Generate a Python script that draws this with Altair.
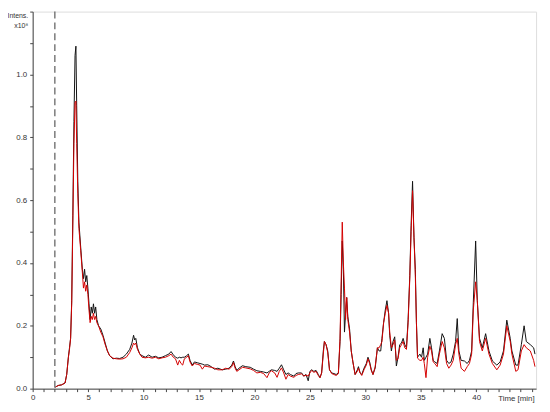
import altair as alt
import pandas as pd

# retention time (min)
time_min = [2.05, 2.3, 2.6, 2.92, 3.07, 3.22, 3.32, 3.42, 3.52, 3.62, 3.72, 3.82, 3.9, 3.97, 4.07, 4.17,
            4.33, 4.48, 4.58, 4.68, 4.78, 4.88, 4.98, 5.08, 5.18, 5.28, 5.38, 5.48, 5.58, 5.68, 5.79, 5.94,
            6.14, 6.34, 6.54, 6.74, 6.94, 7.24, 7.55, 7.85, 8.15, 8.45, 8.75, 8.95, 9.1, 9.2, 9.3, 9.45,
            9.66, 9.86, 10.16, 10.46, 10.77, 11.07, 11.37, 11.67, 11.97, 12.28, 12.48, 12.68, 12.88, 13.08,
            13.23, 13.38, 13.53, 13.68, 13.89, 14.04, 14.19, 14.39, 14.59, 14.89, 15.09, 15.3, 15.5, 15.8,
            16.1, 16.4, 16.7, 17.1, 17.41, 17.71, 17.96, 18.11, 18.26, 18.41, 18.61, 18.92, 19.22, 19.62,
            19.92, 20.22, 20.53, 20.83, 21.13, 21.33, 21.53, 21.83, 22.04, 22.24, 22.44, 22.64, 22.84, 23.04,
            23.24, 23.55, 23.75, 23.95, 24.25, 24.45, 24.65, 24.85, 25.0, 25.16, 25.36, 25.56, 25.76, 25.91,
            26.06, 26.21, 26.31, 26.46, 26.61, 26.77, 26.97, 27.17, 27.37, 27.57, 27.72, 27.82, 27.92, 28.02,
            28.12, 28.22, 28.32, 28.42, 28.58, 28.73, 28.88, 29.08, 29.28, 29.38, 29.53, 29.68, 29.88, 30.09,
            30.24, 30.39, 30.54, 30.69, 30.89, 31.09, 31.24, 31.39, 31.5, 31.65, 31.8, 31.95, 32.1, 32.2,
            32.35, 32.5, 32.65, 32.8, 32.95, 33.1, 33.26, 33.41, 33.56, 33.71, 33.86, 34.01, 34.13, 34.26,
            34.39, 34.51, 34.61, 34.71, 34.92, 35.07, 35.22, 35.32, 35.47, 35.62, 35.82, 35.97, 36.12, 36.27,
            36.48, 36.68, 36.93, 37.13, 37.33, 37.53, 37.73, 37.93, 38.14, 38.29, 38.44, 38.64, 38.94, 39.19,
            39.39, 39.59, 39.74, 39.95, 40.1, 40.3, 40.55, 40.85, 41.15, 41.46, 41.86, 42.16, 42.46, 42.76,
            43.07, 43.22, 43.57, 43.77, 44.07, 44.32, 44.52, 44.88, 45.18, 45.3]

# black trace (x10^8)
intens_black = [0.005, 0.010, 0.012, 0.018, 0.045, 0.10, 0.13, 0.16, 0.28, 0.55, 0.85, 1.06, 1.09, 0.90, 0.66, 0.53,
                0.45, 0.38, 0.35, 0.38, 0.34, 0.36, 0.32, 0.27, 0.22, 0.26, 0.24, 0.27, 0.24, 0.26, 0.22, 0.20,
                0.19, 0.17, 0.145, 0.12, 0.105, 0.095, 0.097, 0.096, 0.10, 0.11, 0.125, 0.145, 0.17, 0.155, 0.16, 0.13,
                0.11, 0.105, 0.10, 0.107, 0.10, 0.103, 0.098, 0.10, 0.105, 0.11, 0.118, 0.108, 0.10, 0.097,
                0.10, 0.098, 0.10, 0.10, 0.105, 0.11, 0.09, 0.075, 0.085, 0.082, 0.08, 0.078, 0.075, 0.076,
                0.07, 0.062, 0.065, 0.06, 0.062, 0.065, 0.075, 0.088, 0.07, 0.058, 0.065, 0.073, 0.07, 0.068,
                0.062, 0.057, 0.055, 0.053, 0.05, 0.055, 0.06, 0.058, 0.055, 0.065, 0.076, 0.06, 0.045, 0.05,
                0.045, 0.04, 0.048, 0.05, 0.05, 0.04, 0.045, 0.025, 0.055, 0.06, 0.055, 0.058, 0.045, 0.035,
                0.05, 0.12, 0.15, 0.14, 0.12, 0.06, 0.05, 0.048, 0.045, 0.05, 0.15, 0.30, 0.47, 0.38,
                0.18, 0.24, 0.29, 0.23, 0.19, 0.12, 0.085, 0.045, 0.06, 0.07, 0.05, 0.045, 0.065, 0.08,
                0.10, 0.085, 0.06, 0.045, 0.066, 0.13, 0.12, 0.12, 0.16, 0.21, 0.25, 0.28, 0.24, 0.17,
                0.12, 0.15, 0.165, 0.072, 0.10, 0.14, 0.145, 0.16, 0.14, 0.13, 0.22, 0.36, 0.52, 0.66,
                0.48, 0.38, 0.21, 0.10, 0.11, 0.10, 0.13, 0.09, 0.10, 0.11, 0.16, 0.13, 0.09, 0.085,
                0.08, 0.12, 0.175, 0.16, 0.09, 0.08, 0.085, 0.11, 0.15, 0.223, 0.12, 0.09, 0.088, 0.08,
                0.09, 0.12, 0.275, 0.47, 0.28, 0.16, 0.13, 0.175, 0.12, 0.088, 0.075, 0.085, 0.12, 0.218,
                0.16, 0.12, 0.075, 0.075, 0.14, 0.20, 0.15, 0.14, 0.13, 0.11]

# red trace (x10^8)
intens_red = [0.005, 0.010, 0.012, 0.018, 0.045, 0.10, 0.125, 0.16, 0.27, 0.52, 0.78, 0.91, 0.915, 0.78, 0.62, 0.51,
              0.44, 0.37, 0.32, 0.34, 0.31, 0.33, 0.30, 0.25, 0.21, 0.23, 0.22, 0.24, 0.22, 0.23, 0.21, 0.20,
              0.18, 0.165, 0.14, 0.12, 0.105, 0.097, 0.095, 0.094, 0.095, 0.10, 0.115, 0.13, 0.145, 0.14, 0.145, 0.125,
              0.11, 0.10, 0.098, 0.10, 0.097, 0.10, 0.095, 0.098, 0.10, 0.105, 0.11, 0.10, 0.095, 0.075,
              0.09, 0.08, 0.075, 0.095, 0.10, 0.105, 0.085, 0.072, 0.08, 0.077, 0.075, 0.062, 0.072, 0.07,
              0.068, 0.065, 0.06, 0.06, 0.065, 0.062, 0.07, 0.083, 0.065, 0.055, 0.06, 0.068, 0.066, 0.063,
              0.058, 0.05, 0.052, 0.048, 0.035, 0.05, 0.057, 0.05, 0.036, 0.055, 0.066, 0.05, 0.03, 0.045,
              0.04, 0.036, 0.042, 0.045, 0.047, 0.04, 0.043, 0.04, 0.05, 0.058, 0.052, 0.055, 0.042, 0.035,
              0.05, 0.11, 0.15, 0.14, 0.115, 0.06, 0.048, 0.045, 0.042, 0.048, 0.16, 0.34, 0.53, 0.40,
              0.32, 0.22, 0.29, 0.22, 0.18, 0.12, 0.085, 0.045, 0.055, 0.065, 0.05, 0.042, 0.06, 0.075,
              0.095, 0.08, 0.058, 0.045, 0.07, 0.13, 0.13, 0.14, 0.15, 0.21, 0.24, 0.265, 0.24, 0.18,
              0.13, 0.14, 0.155, 0.09, 0.095, 0.13, 0.14, 0.15, 0.13, 0.125, 0.21, 0.35, 0.50, 0.63,
              0.48, 0.36, 0.21, 0.097, 0.09, 0.09, 0.10, 0.08, 0.035, 0.10, 0.135, 0.12, 0.085, 0.08,
              0.07, 0.11, 0.15, 0.13, 0.08, 0.065, 0.075, 0.09, 0.14, 0.16, 0.11, 0.065, 0.055, 0.07,
              0.08, 0.11, 0.25, 0.34, 0.28, 0.15, 0.12, 0.16, 0.11, 0.08, 0.06, 0.075, 0.11, 0.20,
              0.15, 0.11, 0.055, 0.06, 0.12, 0.14, 0.13, 0.12, 0.09, 0.07]

injection_marker = [2.0]
x_tick_values = list(range(0, 46))
y_tick_values = [0.0, 0.1, 0.2, 0.3, 0.4, 0.5, 0.6, 0.7, 0.8, 0.9, 1.0, 1.1, 1.2]

df_black = pd.DataFrame({"t": time_min, "v": intens_black})
df_red = pd.DataFrame({"t": time_min, "v": intens_red})
df_marker = pd.DataFrame({"t": injection_marker})

FONT = "Liberation Sans"

x_scale = alt.Scale(domain=[0, 45.4], nice=False, zero=False)
y_scale = alt.Scale(domain=[0, 1.2], nice=False)

x_axis = alt.Axis(
    values=x_tick_values,
    format="d",
    labelExpr="(datum.value % 5 == 0 && datum.value < 45) ? datum.label : ''",
    labelOverlap=False,
    labelFlush=False,
    title="Time [min]",
    titleX=508,
    titleY=10,
    titleAlign="right",
    titleBaseline="middle",
    titleFontWeight="normal",
    titleFontSize=8,
    titleColor="#333",
    labelFontSize=8,
    labelColor="#333",
    tickSize=3,
    labelPadding=2,
    tickColor="#444",
    domainColor="#444",
    grid=False,
    labelFont=FONT,
    titleFont=FONT,
)

y_axis = alt.Axis(
    values=y_tick_values,
    labelExpr="(round(datum.value * 10) % 2 == 0 && datum.value < 1.05) ? format(datum.value, '.1f') : ''",
    labelOverlap=False,
    labelFlush=False,
    title=["Intens.", "x10⁸"],
    titleAngle=0,
    titleX=-5,
    titleY=4,
    titleAlign="right",
    titleBaseline="middle",
    titleLineHeight=10,
    titleFontWeight="normal",
    titleFontSize=7,
    titleColor="#333",
    labelFontSize=8,
    labelColor="#333",
    tickSize=3,
    labelPadding=3,
    tickColor="#444",
    domainColor="#444",
    grid=False,
    labelFont=FONT,
    titleFont=FONT,
)

x_enc = alt.X("t:Q", scale=x_scale, axis=x_axis)
y_enc = alt.Y("v:Q", scale=y_scale, axis=y_axis)

marker = alt.Chart(df_marker).mark_rule(
    color="#666", strokeDash=[7, 4], strokeWidth=1.3
).encode(x=x_enc)

black_line = alt.Chart(df_black).mark_line(
    color="#111111", strokeWidth=1, interpolate="linear"
).encode(x=x_enc, y=y_enc, order="t:Q")

red_line = alt.Chart(df_red).mark_line(
    color="#d40000", strokeWidth=1, interpolate="linear"
).encode(x=x_enc, y=y_enc, order="t:Q")

chart = alt.layer(black_line, red_line, marker).properties(
    width=510,
    height=382,
    autosize="none",
    padding={"left": 25, "top": 1, "right": 6, "bottom": 20},
).configure_view(stroke="#555", strokeWidth=1).configure(background="white")

chart.save("out.html", embed_options={"renderer": "svg", "actions": False})
